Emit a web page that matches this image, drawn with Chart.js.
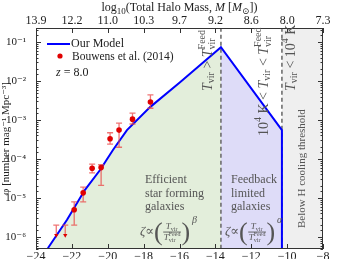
<!DOCTYPE html>
<html>
<head>
<meta charset="utf-8">
<script src="https://cdn.jsdelivr.net/npm/chart.js@4"></script>
<style>
  html, body { margin: 0; padding: 0; background: #fff; }
</style>
</head>
<body>
<canvas id="lfChart" width="360" height="259"></canvas>
<script>
// axis ticks (bottom: UV magnitude, top: halo mass)
const magTicks = [-24, -22, -20, -18, -16, -14, -12, -10, -8];
const haloMass = ["13.9", "12.2", "11.0", "10.3", "9.7", "9.2", "8.6", "8.0", "7.3"];

// model curve
const modelMag = [-23.6, -23.33, -22.27, -21.27, -20.43, -19.71, -18.93, -17.64, -15.97, -13.69, -10.29];
const modelPhi = [3.5e-7, 5.2e-7, 2.75e-6, 1.62e-5, 5.2e-5, 1.7e-4, 5.5e-4, 2.14e-3, 9.3e-3, 7.4e-2, 5.5e-4];
const feedMag = -13.69;   // T_vir = T_vir^Feed
const coolMag = -10.29;   // T_vir = 10^4 K

// Bouwens et al. (2014), z = 8
const obsMag = [-22.87, -22.37, -21.87, -21.37, -20.87, -20.37, -19.87, -19.37, -18.62, -17.62];
const obsPhi = [1.1e-6, 1.1e-6, 5.0e-6, 1.35e-5, 5.8e-5, 6.0e-5, 3.3e-4, 5.5e-4, 1.05e-3, 2.9e-3];
const obsHi  = [2.0e-6, 2.0e-6, 7.9e-6, 1.9e-5, 7.4e-5, 7.1e-5, 4.7e-4, 8.3e-4, 1.5e-3, 4.4e-3];
const obsLo  = [1.1e-6, 1.1e-6, 2.0e-6, 7.9e-6, 4.4e-5, 2.1e-5, 2.4e-4, 2.0e-4, 7.9e-4, 2.0e-3];
const obsLimit = [true, true, false, false, false, false, false, false, false, false];

const SERIF = "'Liberation Serif', 'DejaVu Serif', serif";
const TXT = "#555";

const peak = modelPhi.indexOf(Math.max(...modelPhi));
const modelPts = modelMag.map((m, i) => ({x: m, y: modelPhi[i]}));
const greenPts = modelPts.slice(0, peak + 1);
const lavPts = modelPts.slice(peak);
const linePts = modelPts.concat([{x: coolMag, y: 1e-9}]);

const sup = {"-": "\u207b", "0": "\u2070", "1": "\u00b9", "2": "\u00b2", "3": "\u00b3", "4": "\u2074", "5": "\u2075", "6": "\u2076", "7": "\u2077", "8": "\u2078", "9": "\u2079"};
const toSup = s => String(s).split("").map(c => sup[c]).join("");

// rich text: parts = [text, kind, extra] ; kind r, i, sub, sup, ss (stacked sub + sup in extra)
function rich(ctx, parts, x, y, size, measureOnly) {
    let cx = x;
    const put = (t, px, py) => { if (!measureOnly) ctx.fillText(t, px, py); };
    for (const p of parts) {
        const k = p[1];
        if (k === "r" || k === "i") {
            ctx.font = (k === "i" ? "italic " : "") + size + "px " + SERIF;
            put(p[0], cx, y);
            cx += ctx.measureText(p[0]).width;
        } else if (k === "sub" || k === "sup") {
            ctx.font = Math.round(size * 0.72) + "px " + SERIF;
            put(p[0], cx, y + (k === "sub" ? size * 0.28 : -size * 0.4));
            cx += ctx.measureText(p[0]).width;
        } else if (k === "ss") {
            ctx.font = Math.round(size * 0.72) + "px " + SERIF;
            put(p[2], cx, y - size * 0.42);
            put(p[0], cx, y + size * 0.3);
            cx += Math.max(ctx.measureText(p[0]).width, ctx.measureText(p[2]).width);
        }
    }
    return cx - x;
}

function vertical(ctx, parts, x, yBottom, size) {
    ctx.save();
    ctx.translate(x, yBottom);
    ctx.rotate(-Math.PI / 2);
    ctx.textBaseline = "middle";
    rich(ctx, parts, 0, 0, size);
    ctx.restore();
}

function zetaFormula(ctx, x, yc, power) {
    ctx.textBaseline = "middle";
    ctx.font = "italic 13px " + SERIF;
    ctx.fillText("\u03b6", x, yc);
    let cx = x + ctx.measureText("\u03b6").width;
    ctx.font = "13px " + SERIF;
    ctx.fillText("\u221d", cx, yc);
    cx += ctx.measureText("\u221d").width;
    ctx.font = "26px " + SERIF;
    ctx.fillText("(", cx, yc + 1);
    cx += ctx.measureText("(").width + 0.5;
    // fraction
    const num = [["T", "i"], ["vir", "sub"]];
    const den = [["T", "i"], ["vir", "ss", "Feed"]];
    const dw = rich(ctx, den, 0, 0, 9, true);
    const nw = rich(ctx, num, 0, 0, 9, true);
    rich(ctx, num, cx + (dw - nw) / 2, yc - 5, 9);
    ctx.fillRect(cx, yc - 0.4, dw + 1, 0.9);
    rich(ctx, den, cx + 0.5, yc + 6, 9);
    cx += dw + 1.5;
    ctx.font = "26px " + SERIF;
    ctx.fillText(")", cx, yc + 1);
    cx += ctx.measureText(")").width;
    ctx.font = "italic 10px " + SERIF;
    ctx.fillText(power, cx + 2, yc - 12);
}

const decor = {
    id: "decor",
    beforeDatasetDraw(chart, args) {
        if (args.index !== 6) return;
        const {ctx, scales: {x, y}} = chart;
        ctx.save();
        ctx.strokeStyle = "rgba(235,70,70,0.75)";
        ctx.lineWidth = 1.3;
        obsMag.forEach((m, i) => {
            const px = x.getPixelForValue(m);
            const yh = y.getPixelForValue(obsHi[i]);
            const yl = y.getPixelForValue(obsLo[i]);
            ctx.beginPath();
            ctx.moveTo(px, yh); ctx.lineTo(px, yl);
            ctx.moveTo(px - 3, yh); ctx.lineTo(px + 3, yh);
            if (!obsLimit[i]) { ctx.moveTo(px - 3, yl); ctx.lineTo(px + 3, yl); }
            ctx.stroke();
        });
        ctx.restore();
    },
    afterDatasetsDraw(chart) {
        const {ctx, chartArea: a, scales: {x, y}} = chart;
        ctx.save();
        // frame and inward ticks
        ctx.strokeStyle = "#333";
        ctx.lineWidth = 1;
        ctx.strokeRect(a.left + 0.5, a.top + 0.5, a.right - a.left - 1, a.bottom - a.top - 1);
        ctx.beginPath();
        y.ticks.forEach(t => {
            const py = Math.round(y.getPixelForValue(t.value)) + 0.5;
            const major = t.label !== "";
            const len = major ? 5 : 2.5;
            ctx.moveTo(a.left, py); ctx.lineTo(a.left + len, py);
            ctx.moveTo(a.right, py); ctx.lineTo(a.right - len, py);
        });
        magTicks.forEach(v => {
            const px = Math.round(x.getPixelForValue(v)) + 0.5;
            ctx.moveTo(px, a.bottom); ctx.lineTo(px, a.bottom - 5);
            ctx.moveTo(px, a.top); ctx.lineTo(px, a.top + 5);
        });
        ctx.stroke();

        // x tick labels, bottom and top, and top axis title
        ctx.fillStyle = "#222";
        ctx.textBaseline = "middle";
        ctx.textAlign = "center";
        ctx.font = "12px " + SERIF;
        magTicks.forEach((v, i) => {
            const px = x.getPixelForValue(v);
            ctx.fillText((v < 0 ? "\u2212" : "") + Math.abs(v), px, 257);
            ctx.fillText(haloMass[i], px, 21);
        });
        ctx.textAlign = "left";
        const title = [["log", "r"], ["10", "sub"], ["(Total Halo Mass, ", "r"], ["M", "i"], [" [", "r"],
                       ["M", "i"], ["\u2299", "sub"], ["])", "r"]];
        const tw = rich(ctx, title, 0, 0, 12, true);
        rich(ctx, title, (a.left + a.right) / 2 - tw / 2, 8, 12);

        // legend
        ctx.strokeStyle = "#0000ff";
        ctx.lineWidth = 2;
        ctx.beginPath(); ctx.moveTo(47, 44); ctx.lineTo(70, 44); ctx.stroke();
        ctx.font = "12px " + SERIF;
        ctx.fillText("Our Model", 71, 44);
        ctx.fillStyle = "#e00000";
        ctx.beginPath(); ctx.arc(60, 56, 2.6, 0, Math.PI * 2); ctx.fill();
        ctx.fillStyle = "#222";
        ctx.font = "11.5px " + SERIF;
        ctx.fillText("Bouwens et al. (2014)", 72, 57);
        rich(ctx, [["z", "i"], [" = 8.0", "r"]], 56, 73, 12);

        // region labels
        ctx.fillStyle = TXT;
        vertical(ctx, [["T", "i"], ["vir", "sub"], [" > ", "r"], ["T", "i"], ["vir", "ss", "Feed"]],
            x.getPixelForValue(feedMag) - 13, 91, 14);
        vertical(ctx, [["10", "r"], ["4", "sup"], [" K < ", "r"], ["T", "i"], ["vir", "sub"], [" < ", "r"], ["T", "i"], ["vir", "ss", "Feed"]],
            x.getPixelForValue(feedMag) + 43, 136, 14);
        vertical(ctx, [["T", "i"], ["vir", "sub"], [" < 10", "r"], ["4", "sup"], [" K", "r"]],
            x.getPixelForValue(coolMag) + 9, 91, 14);
        vertical(ctx, [["Below H cooling threshold", "r"]], x.getPixelForValue(coolMag) + 20, 228, 11);

        ctx.textBaseline = "alphabetic";
        ctx.font = "12px " + SERIF;
        ["Efficient", "star forming", "galaxies"].forEach((s, i) => ctx.fillText(s, 145, 183 + i * 13.5));
        ["Feedback", "limited", "galaxies"].forEach((s, i) => ctx.fillText(s, 231, 183 + i * 13.5));
        zetaFormula(ctx, 140, 232, "\u03b2");
        zetaFormula(ctx, 225, 232, "\u03b1");
        ctx.restore();
    }
};

const fixedTicks = s => { s.ticks = magTicks.map(t => ({value: t})); };

new Chart(document.getElementById("lfChart"), {
    type: "line",
    data: {
        datasets: [
            {data: [{x: coolMag, y: 1}, {x: -8, y: 1}], fill: "start", backgroundColor: "#efefef",
             borderWidth: 0, pointRadius: 0, order: 9},
            {data: greenPts, fill: "start", backgroundColor: "#e3eedb", borderWidth: 0, pointRadius: 0, order: 8},
            {data: lavPts, fill: "start", backgroundColor: "#dedcf8", borderWidth: 0, pointRadius: 0, order: 8},
            {data: [{x: feedMag, y: 1e-9}, {x: feedMag, y: 1}], borderColor: "#666", borderDash: [4, 3],
             borderWidth: 1.5, pointRadius: 0, order: 7},
            {data: [{x: coolMag, y: 1e-9}, {x: coolMag, y: 1}], borderColor: "#666", borderDash: [4, 3],
             borderWidth: 1.5, pointRadius: 0, order: 7},
            {data: linePts, borderColor: "#0000ff", borderWidth: 2, pointRadius: 0, tension: 0, order: 2},
            {data: obsMag.map((m, i) => ({x: m, y: obsPhi[i]})), showLine: false,
             pointStyle: obsLimit.map(l => l ? "triangle" : "circle"),
             pointRotation: obsLimit.map(l => l ? 180 : 0),
             pointRadius: obsLimit.map(l => l ? 2.5 : 2.8),
             backgroundColor: "#e00000", borderColor: "#e00000", borderWidth: 0, order: 1}
        ]
    },
    options: {
        responsive: false,
        animation: false,
        devicePixelRatio: 1,
        layout: {padding: {left: 0, right: 37, top: 0, bottom: 0}},
        plugins: {legend: {display: false}, tooltip: {enabled: false}},
        scales: {
            x: {
                type: "linear", position: "bottom", min: -24, max: -8,
                grid: {display: false}, border: {display: false},
                afterBuildTicks: fixedTicks,
                afterFit: s => { s.height = 10; },
                ticks: {display: false}
            },
            x2: {
                type: "linear", position: "top", min: -24, max: -8,
                grid: {display: false}, border: {display: false},
                afterBuildTicks: fixedTicks,
                afterFit: s => { s.height = 28; },
                ticks: {display: false}
            },
            y: {
                type: "logarithmic", min: 4.9e-7, max: 0.229,
                grid: {display: false}, border: {display: false},
                afterFit: s => { s.width = 36; },
                ticks: {autoSkip: false, padding: 2, color: "#222", font: {family: SERIF, size: 11},
                        callback: v => {
                            const e = Math.log10(v);
                            return Math.abs(e - Math.round(e)) < 1e-6 ? "10" + toSup(Math.round(e)) : "";
                        }},
                title: {display: true, text: "\u03c6 [number mag\u207b\u00b9 Mpc\u207b\u00b3]", color: "#222",
                        font: {family: SERIF, size: 11}, padding: 0}
            }
        }
    },
    plugins: [decor]
});
</script>
</body>
</html>
